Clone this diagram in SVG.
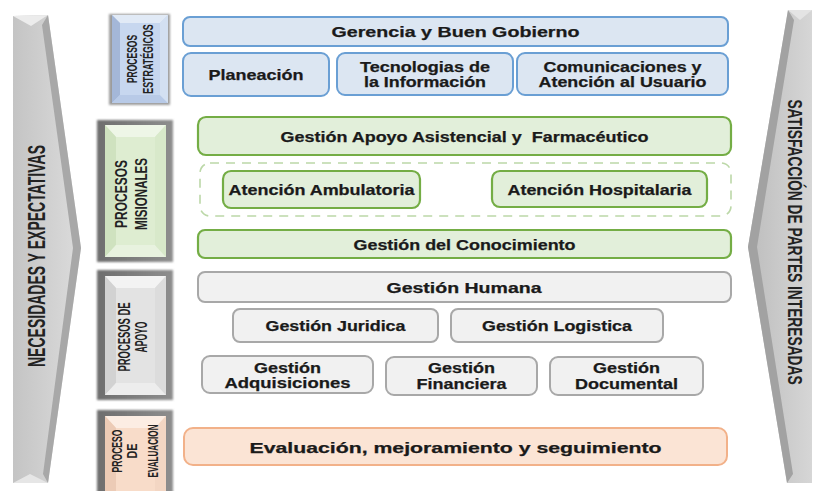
<svg xmlns="http://www.w3.org/2000/svg" width="814" height="491" viewBox="0 0 814 491">
<defs>
<style>
.t{font-family:"Liberation Sans",Arial,sans-serif;font-weight:bold;font-size:14.5px;fill:#1a1a1a;stroke:#1a1a1a;stroke-width:0.25;text-anchor:middle}
.v{font-family:"Liberation Sans",Arial,sans-serif;font-weight:bold;fill:#222222;text-anchor:middle}
.blue{fill:#dce6f2;stroke:#6a9fd4;stroke-width:2}
.green{fill:#e2efda;stroke:#74ad45;stroke-width:2.2}
.gray{fill:#f1f1f1;stroke:#a8a8a8;stroke-width:2}
.peach{fill:#fbe4d5;stroke:#f2b189;stroke-width:2}
.dash{fill:none;stroke:#bcd8a8;stroke-width:1.6;stroke-dasharray:9 7}
.frame{fill:url(#frameGrad);filter:url(#soft)}
</style>
<linearGradient id="leftArrow" x1="0" y1="0" x2="1" y2="0">
<stop offset="0" stop-color="#c4c4c4"/><stop offset="1" stop-color="#dcdcdc"/>
</linearGradient>
<linearGradient id="rightArrow" x1="0" y1="0" x2="1" y2="0">
<stop offset="0" stop-color="#bdbdbd"/><stop offset="1" stop-color="#d6d6d6"/>
</linearGradient>
<linearGradient id="frameGrad" x1="0" y1="0" x2="1" y2="0">
<stop offset="0" stop-color="#6e6e6e"/><stop offset="1" stop-color="#8e8e8e"/>
</linearGradient>
<filter id="soft" x="-20%" y="-20%" width="140%" height="140%">
<feGaussianBlur stdDeviation="1.3"/>
</filter>
</defs>
<rect width="814" height="491" fill="#ffffff"/>

<g id="arrow-left">
<polygon points="13,16 48,15 81,248 48,483 13,483" fill="url(#leftArrow)"/>
<polygon points="48,15 81,248 48,483 43,474 73,248 42,25" fill="#a8a8a8"/>
<polygon points="13,16 48,15 31,26" fill="#ececec"/>
<polygon points="13,483 48,483 30,474" fill="#e6e6e6"/>
<text class="v" font-size="23" x="45" y="256" transform="rotate(-90 45 256)" textLength="222" lengthAdjust="spacingAndGlyphs">NECESIDADES Y EXPECTATIVAS</text>
</g>

<g id="arrow-right">
<polygon points="788,10 812,10 812,483 787,483 748,247" fill="url(#rightArrow)"/>
<polygon points="788,10 748,247 787,483 793,474 757,247 794,20" fill="#a2a2a2"/>
<polygon points="788,10 812,10 800,20" fill="#e4e4e4"/>
<text class="v" font-size="13.75" x="0" y="0" transform="translate(788 242) rotate(90) scale(1 1.52)">SATISFACCIÓN DE PARTES INTERESADAS</text>
</g>

<g id="label-estrategicos">
<rect x="109" y="14" width="61" height="91" fill="#9c9c9c" filter="url(#soft)"/>
<rect x="112" y="15" width="56" height="88" fill="#c7d7ef"/>
<polygon points="112,15 168,15 160,23 120,23" fill="#e1eaf6"/>
<polygon points="112,15 120,23 120,95 112,103" fill="#a4b7d8"/>
<polygon points="112,103 168,103 160,95 120,95" fill="#b8cae7"/>
<polygon points="168,15 168,103 160,95 160,23" fill="#d3e0f2"/>
<text class="v" font-size="8.5" x="0" y="0" transform="translate(137 59) rotate(-90) scale(1 1.75)">PROCESOS</text>
<text class="v" font-size="8.9" x="0" y="0" transform="translate(153 59) rotate(-90) scale(1 1.7)">ESTRATÉGICOS</text>
</g>

<g id="label-misionales">
<rect class="frame" x="97" y="120" width="76" height="142"/>
<rect x="105" y="125" width="61" height="132" fill="#deedd1"/>
<polygon points="105,125 166,125 155,137 116,137" fill="#eef6e7"/>
<polygon points="105,125 116,137 116,245 105,257" fill="#cfe2bf"/>
<polygon points="105,257 166,257 155,245 116,245" fill="#e8f2df"/>
<polygon points="166,125 166,257 155,245 155,137" fill="#d8e9ca"/>
<text class="v" font-size="16" x="127" y="194" transform="rotate(-90 127 194)" textLength="68" lengthAdjust="spacingAndGlyphs">PROCESOS</text>
<text class="v" font-size="16" x="147" y="194" transform="rotate(-90 147 194)" textLength="72" lengthAdjust="spacingAndGlyphs">MISIONALES</text>
</g>

<g id="label-apoyo">
<rect class="frame" x="97" y="270" width="76" height="130"/>
<rect x="105" y="276" width="61" height="119" fill="#e3e3e3"/>
<polygon points="105,276 166,276 155,288 116,288" fill="#f3f3f3"/>
<polygon points="105,276 116,288 116,383 105,395" fill="#d2d2d2"/>
<polygon points="105,395 166,395 155,383 116,383" fill="#ededed"/>
<polygon points="166,276 166,395 155,383 155,288" fill="#dcdcdc"/>
<text class="v" font-size="16" x="130" y="337" transform="rotate(-90 130 337)" textLength="69" lengthAdjust="spacingAndGlyphs">PROCESOS DE</text>
<text class="v" font-size="16" x="147" y="337" transform="rotate(-90 147 337)" textLength="31" lengthAdjust="spacingAndGlyphs">APOYO</text>
</g>

<g id="label-evaluacion">
<rect class="frame" x="97" y="410" width="76" height="90"/>
<rect x="105" y="416" width="61" height="80" fill="#f8dcc9"/>
<polygon points="105,416 166,416 155,428 116,428" fill="#fcede3"/>
<polygon points="105,416 116,428 116,491 105,491" fill="#eccbb6"/>
<polygon points="166,416 166,491 155,491 155,428" fill="#f3d6c3"/>
<text class="v" font-size="14" x="122" y="451" transform="rotate(-90 122 451)" textLength="43" lengthAdjust="spacingAndGlyphs">PROCESO</text>
<text class="v" font-size="14" x="137" y="451" transform="rotate(-90 137 451)" textLength="15" lengthAdjust="spacingAndGlyphs">DE</text>
<text class="v" font-size="14" x="158" y="451" transform="rotate(-90 158 451)" textLength="53" lengthAdjust="spacingAndGlyphs">EVALUACION</text>
</g>

<g id="gerencia">
<rect class="blue" x="183" y="17" width="545" height="29" rx="7"/>
<text class="t" font-size="15" x="455.5" y="36.5" textLength="248" lengthAdjust="spacingAndGlyphs">Gerencia y Buen Gobierno</text>
</g>
<g id="planeacion">
<rect class="blue" x="183" y="53" width="146" height="43" rx="8"/>
<text class="t" x="256" y="80" textLength="95" lengthAdjust="spacingAndGlyphs">Planeación</text>
</g>
<g id="tecnologias">
<rect class="blue" x="337" y="53" width="176" height="42" rx="8"/>
<text class="t" x="425" y="71.7" textLength="130" lengthAdjust="spacingAndGlyphs">Tecnologias de</text>
<text class="t" x="425" y="87" textLength="122" lengthAdjust="spacingAndGlyphs">la Información</text>
</g>
<g id="comunicaciones">
<rect class="blue" x="517" y="53" width="211" height="42" rx="8"/>
<text class="t" x="622.5" y="71.7" textLength="158" lengthAdjust="spacingAndGlyphs">Comunicaciones y</text>
<text class="t" x="622.5" y="87" textLength="168" lengthAdjust="spacingAndGlyphs">Atención al Usuario</text>
</g>

<g id="apoyo-asistencial">
<rect class="green" x="198" y="117" width="533" height="38" rx="8"/>
<text class="t" x="464.5" y="141.5" textLength="368" lengthAdjust="spacingAndGlyphs" xml:space="preserve">Gestión Apoyo Asistencial y  Farmacéutico</text>
</g>
<g id="atencion-grupo">
<rect class="dash" x="200" y="163" width="531" height="53" rx="10"/>
</g>
<g id="ambulatoria">
<rect class="green" x="223" y="171" width="197" height="37" rx="8"/>
<text class="t" x="321.5" y="194.5" textLength="186" lengthAdjust="spacingAndGlyphs">Atención Ambulatoria</text>
</g>
<g id="hospitalaria">
<rect class="green" x="492" y="171" width="215" height="36" rx="8"/>
<text class="t" x="599.5" y="194.5" textLength="184" lengthAdjust="spacingAndGlyphs">Atención Hospitalaria</text>
</g>
<g id="conocimiento">
<rect class="green" x="198" y="230" width="533" height="28" rx="7"/>
<text class="t" x="464.5" y="249.5" textLength="222" lengthAdjust="spacingAndGlyphs">Gestión del Conocimiento</text>
</g>

<g id="humana">
<rect class="gray" x="198" y="272" width="533" height="30" rx="7"/>
<text class="t" font-size="15" x="464" y="292.5" textLength="155" lengthAdjust="spacingAndGlyphs">Gestión Humana</text>
</g>
<g id="juridica">
<rect class="gray" x="233" y="309" width="205" height="33" rx="7"/>
<text class="t" x="335.5" y="330.5" textLength="140" lengthAdjust="spacingAndGlyphs">Gestión Juridica</text>
</g>
<g id="logistica">
<rect class="gray" x="451" y="309" width="212" height="33" rx="7"/>
<text class="t" x="557" y="330.5" textLength="150" lengthAdjust="spacingAndGlyphs">Gestión Logistica</text>
</g>
<g id="adquisiciones">
<rect class="gray" x="202" y="356" width="171" height="37" rx="8"/>
<text class="t" x="287.5" y="372.5" textLength="67" lengthAdjust="spacingAndGlyphs">Gestión</text>
<text class="t" x="287.5" y="388" textLength="126" lengthAdjust="spacingAndGlyphs">Adquisiciones</text>
</g>
<g id="financiera">
<rect class="gray" x="386" y="357" width="151" height="38" rx="8"/>
<text class="t" x="461.5" y="373" textLength="67" lengthAdjust="spacingAndGlyphs">Gestión</text>
<text class="t" x="461.5" y="388.5" textLength="90" lengthAdjust="spacingAndGlyphs">Financiera</text>
</g>
<g id="documental">
<rect class="gray" x="550" y="357" width="153" height="38" rx="8"/>
<text class="t" x="626.5" y="373" textLength="67" lengthAdjust="spacingAndGlyphs">Gestión</text>
<text class="t" x="626.5" y="388.5" textLength="103" lengthAdjust="spacingAndGlyphs">Documental</text>
</g>

<g id="evaluacion">
<rect class="peach" x="184" y="428" width="543" height="37" rx="9"/>
<text class="t" font-size="17.5" x="455.5" y="452.7" textLength="412" lengthAdjust="spacingAndGlyphs">Evaluación, mejoramiento y seguimiento</text>
</g>

<g id="connectors"/>
</svg>
